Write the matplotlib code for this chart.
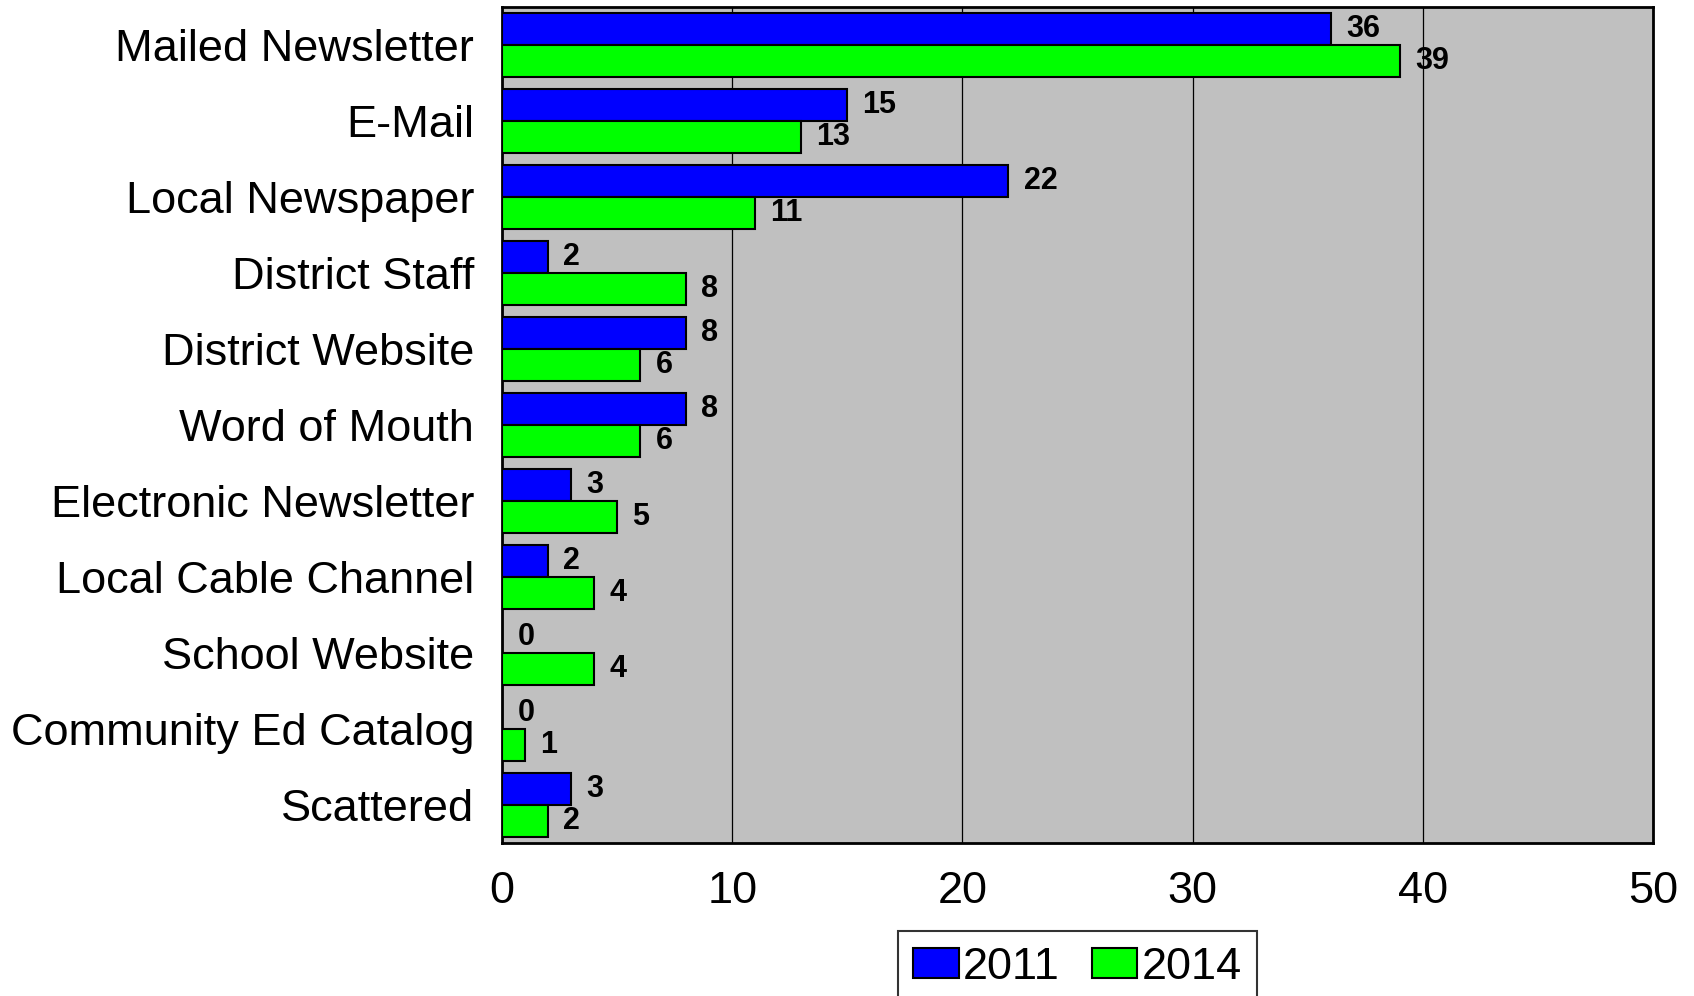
import matplotlib
matplotlib.use("Agg")
import matplotlib.pyplot as plt
import numpy as np

# data
categories = ["Mailed Newsletter", "E-Mail", "Local Newspaper", "District Staff",
              "District Website", "Word of Mouth", "Electronic Newsletter",
              "Local Cable Channel", "School Website", "Community Ed Catalog",
              "Scattered"]
values_2011 = [36, 15, 22, 2, 8, 8, 3, 2, 0, 0, 3]
values_2014 = [39, 13, 11, 8, 6, 6, 5, 4, 4, 1, 2]
series_labels = ["2011", "2014"]
xticks = [0, 10, 20, 30, 40, 50]

plt.rcParams['font.family'] = ['Liberation Sans', 'DejaVu Sans']

fig = plt.figure(figsize=(16.94, 9.96), dpi=100)
ax = fig.add_axes([502 / 1694, 1 - 843 / 996, 1151 / 1694, 836 / 996])
ax.set_facecolor("#C0C0C0")

y = np.arange(len(categories))
h = 0.425
b1 = ax.barh(y - h / 2, values_2011, height=h, color="#0000FF", edgecolor="black",
             linewidth=1.5, label=series_labels[0], zorder=3)
b2 = ax.barh(y + h / 2, values_2014, height=h, color="#00FF00", edgecolor="black",
             linewidth=1.5, label=series_labels[1], zorder=3)

for bars, vals in ((b1, values_2011), (b2, values_2014)):
    for rect, v in zip(bars, vals):
        ax.annotate(str(v), (v, rect.get_y() + rect.get_height() / 2),
                    xytext=(11, 0), textcoords="offset points",
                    ha="left", va="center", fontsize=22, fontweight="bold")

ax.set_xlim(0, 50)
ax.set_ylim(len(categories) - 0.5, -0.5)
ax.set_xticks(xticks)
ax.set_yticks(y)
ax.set_yticklabels(categories)
ax.tick_params(axis="both", length=0, labelsize=32.5)
ax.tick_params(axis="x", pad=20)
ax.tick_params(axis="y", pad=20)
ax.xaxis.grid(True, color="black", linewidth=0.9)
ax.set_axisbelow(True)
for s in ax.spines.values():
    s.set_linewidth(2)

leg = ax.legend(loc="upper center", bbox_to_anchor=(0.5, -0.105), ncol=2,
                fontsize=32.5, frameon=True, fancybox=False, edgecolor="black",
                handlelength=1.0, handleheight=0.65, handletextpad=0.1,
                columnspacing=0.7, borderpad=0.35, borderaxespad=0)
leg.get_frame().set_linewidth(1.5)

fig.savefig("out.png", dpi=100)
